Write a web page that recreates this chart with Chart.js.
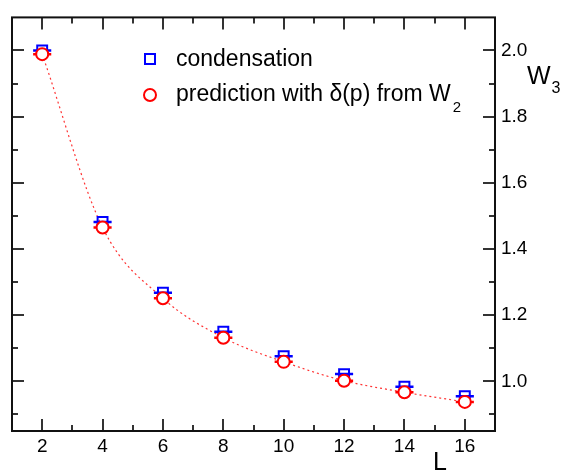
<!DOCTYPE html>
<html>
<head>
<meta charset="utf-8">
<script src="https://cdn.jsdelivr.net/npm/chart.js@4.4.1/dist/chart.umd.min.js"></script>
<style>
  html, body { margin: 0; padding: 0; background: #fff; }
  #wrap { position: relative; width: 565px; height: 471px; font-family: "Liberation Sans", Arial, sans-serif; color: #000; overflow: hidden; }
  #c { position: absolute; left: 0; top: 0; }
  .t { position: absolute; white-space: nowrap; line-height: 1; }
  .sub { position: relative; }
</style>
</head>
<body>
<div id="wrap">
  <canvas id="c" width="565" height="471"></canvas>
  <div class="t" style="left:176px; top:47px; font-size:23px;">condensation</div>
  <div class="t" style="left:176px; top:82px; font-size:23px;">prediction with δ(p) from W<span class="sub" style="font-size:15px; top:11px; margin-left:2px;">2</span></div>
  <div class="t" style="left:527px; top:63px; font-size:25px;">W<span class="sub" style="font-size:16px; top:9px; margin-left:1px;">3</span></div>
  <div class="t" style="left:433px; top:449px; font-size:25px;">L</div>
</div>
<script>
/* ── W3 vs L : condensation vs prediction ── */
const L            = [2, 4, 6, 8, 10, 12, 14, 16];
const condensation = [2.000, 1.482, 1.268, 1.150, 1.076, 1.022, 0.984, 0.955];
const prediction   = [1.989, 1.465, 1.251, 1.132, 1.059, 1.002, 0.967, 0.938];
const xErr         = 0.3;
const xTicks       = [2, 4, 6, 8, 10, 12, 14, 16];
const yTicks       = [1.0, 1.2, 1.4, 1.6, 1.8, 2.0];

const pts = ys => L.map((x, i) => ({ x, y: ys[i] }));

/* frame + inward ticks on all four sides */
const frame = {
  id: 'frame',
  beforeDatasetsDraw(chart) {
    const { ctx, chartArea: a, scales: { x, y } } = chart;
    ctx.save();
    ctx.strokeStyle = '#333'; ctx.lineWidth = 2;
    ctx.beginPath();
    for (let v = 2; v <= 16; v++) {
      const px = Math.round(x.getPixelForValue(v)), len = v % 2 === 0 ? 12 : 6;
      ctx.moveTo(px, a.bottom); ctx.lineTo(px, a.bottom - len);
      ctx.moveTo(px, a.top);    ctx.lineTo(px, a.top + len);
    }
    for (let k = 9; k <= 20; k++) {
      const py = Math.round(y.getPixelForValue(k / 10)), len = k % 2 === 0 ? 12 : 6;
      ctx.moveTo(a.left, py);  ctx.lineTo(a.left + len, py);
      ctx.moveTo(a.right, py); ctx.lineTo(a.right - len, py);
    }
    ctx.stroke();
    ctx.strokeStyle = '#111';
    ctx.strokeRect(a.left, a.top, a.right - a.left, a.bottom - a.top);
    ctx.restore();
  },
  afterDraw(chart) {
    /* legend markers */
    const { ctx } = chart;
    ctx.save();
    ctx.lineWidth = 2;
    ctx.strokeStyle = '#0000ff';
    ctx.strokeRect(145, 54, 10, 10);
    ctx.strokeStyle = '#ff0000';
    ctx.beginPath(); ctx.arc(150, 95, 6, 0, Math.PI * 2); ctx.stroke();
    ctx.restore();
  }
};

/* horizontal x error bars */
function drawBars(chart, i) {
  const ds = chart.data.datasets[i];
  if (!ds.errColor) return;
  const { ctx, scales: { x, y } } = chart;
  ctx.save();
  ctx.strokeStyle = ds.errColor; ctx.lineWidth = 2.5;
  ctx.beginPath();
  ds.data.forEach(p => {
    const py = y.getPixelForValue(p.y);
    ctx.moveTo(x.getPixelForValue(p.x - xErr), py);
    ctx.lineTo(x.getPixelForValue(p.x + xErr), py);
  });
  ctx.stroke();
  ctx.restore();
}
const xbars = {
  id: 'xbars',
  beforeDatasetDraw(chart, args) { if (chart.data.datasets[args.index].errBefore) drawBars(chart, args.index); },
  afterDatasetDraw(chart, args)  { if (!chart.data.datasets[args.index].errBefore) drawBars(chart, args.index); }
};

new Chart(document.getElementById('c').getContext('2d'), {
  type: 'scatter',
  data: {
    datasets: [
      {
        label: 'fit', data: pts(prediction), showLine: true, order: 3,
        borderColor: 'rgba(255,0,0,0.8)', borderWidth: 1.2, borderDash: [2, 3],
        cubicInterpolationMode: 'monotone', pointRadius: 0
      },
      {
        label: 'condensation', data: pts(condensation), order: 2,
        pointStyle: 'rect', pointRadius: 7, borderWidth: 2,
        borderColor: '#0000ff', backgroundColor: 'rgba(0,0,0,0)',
        errColor: '#0000ff'
      },
      {
        label: 'prediction with δ(p) from W2', data: pts(prediction), order: 1,
        pointStyle: 'circle', pointRadius: 6, borderWidth: 2,
        borderColor: '#ff0000', backgroundColor: '#ffffff',
        errColor: '#ff0000', errBefore: true
      }
    ]
  },
  options: {
    responsive: false, animation: false,
    layout: { padding: { left: 12, top: 9, right: 0, bottom: 0 } },
    plugins: { legend: { display: false }, tooltip: { enabled: false } },
    scales: {
      x: {
        type: 'linear', position: 'bottom', min: 1, max: 17,
        grid: { display: false, drawTicks: false }, border: { display: false },
        afterBuildTicks: s => { s.ticks = xTicks.map(v => ({ value: v })); },
        afterFit: s => { s.height = 40; },
        ticks: { color: '#000', padding: 4, font: { family: 'Liberation Sans', size: 19 } }
      },
      y: {
        type: 'linear', position: 'right', min: 0.85, max: 2.1,
        grid: { display: false, drawTicks: false }, border: { display: false },
        afterBuildTicks: s => { s.ticks = yTicks.map(v => ({ value: v })); },
        afterFit: s => { s.width = 70; },
        ticks: { color: '#000', padding: 6, font: { family: 'Liberation Sans', size: 19 }, callback: v => v.toFixed(1) }
      }
    }
  },
  plugins: [frame, xbars]
});
</script>
</body>
</html>
